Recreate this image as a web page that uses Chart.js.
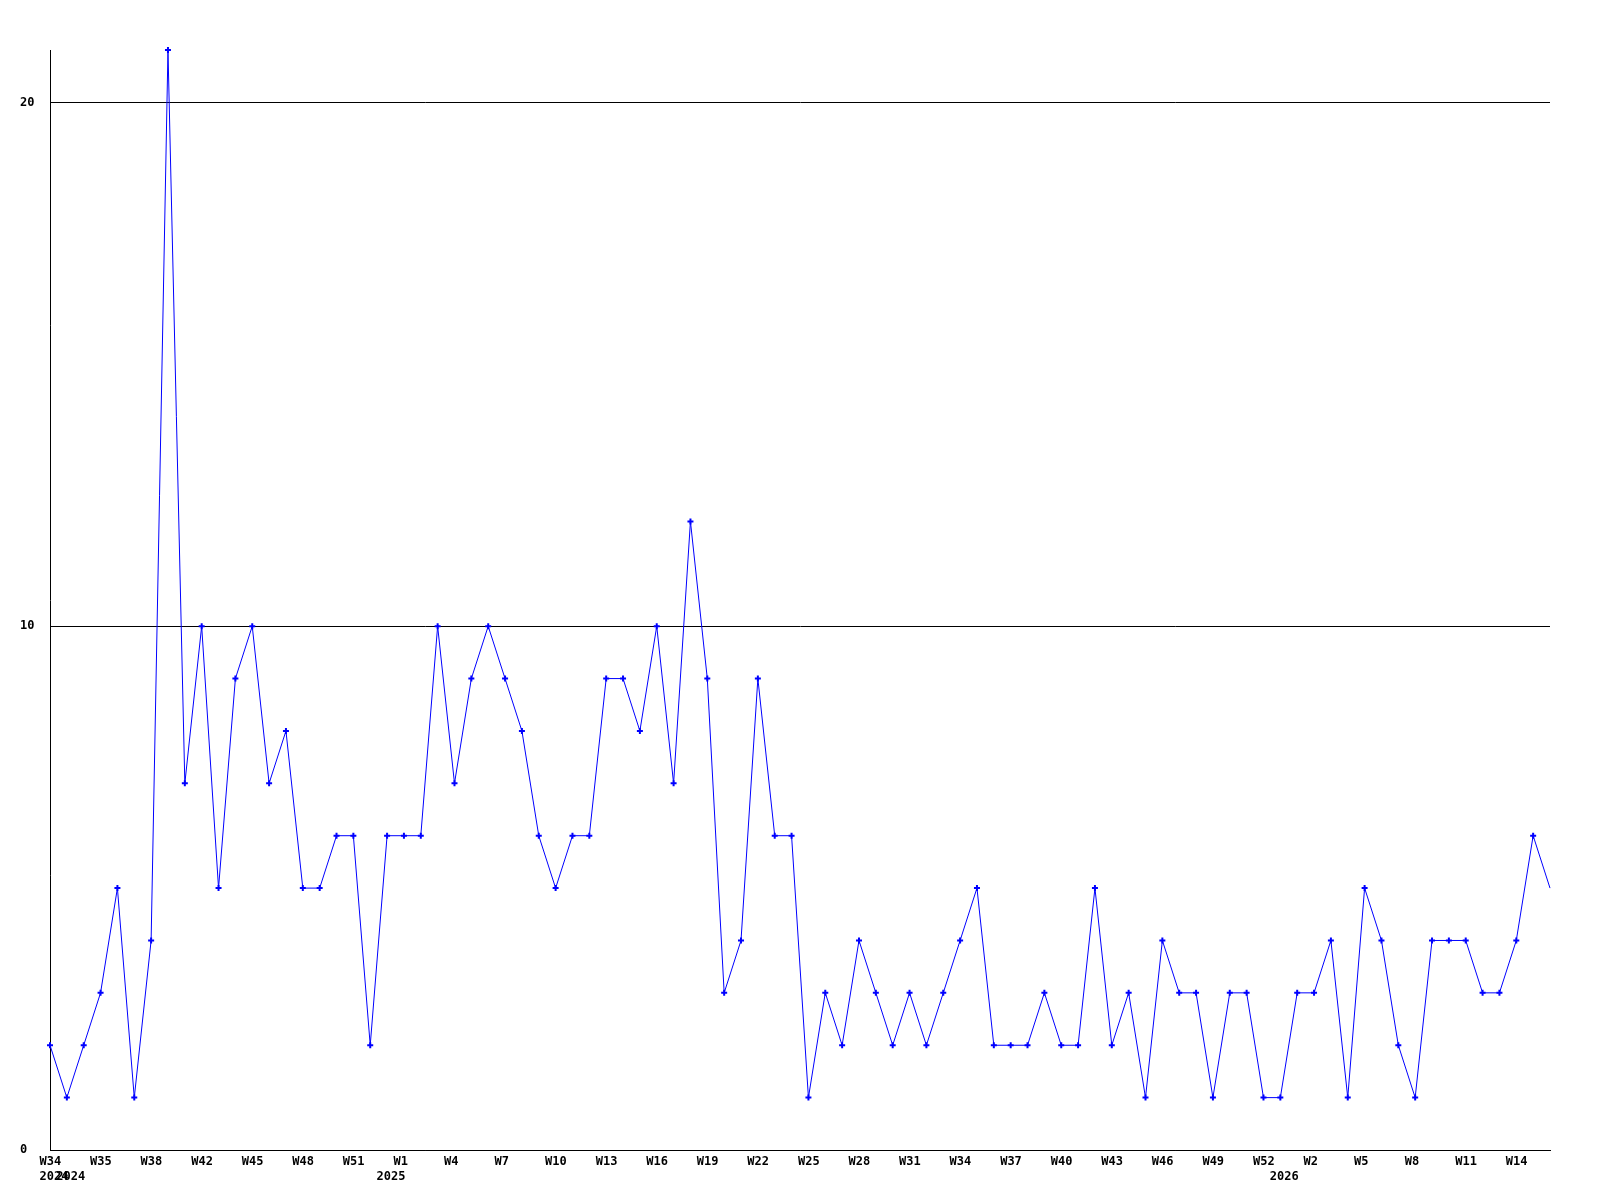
<!DOCTYPE html>
<html>
<head>
<meta charset="utf-8">
<script src="https://cdn.jsdelivr.net/npm/chart.js@4/dist/chart.umd.min.js"></script>
<style>
  html, body { margin: 0; padding: 0; background: #ffffff; }
  #wrap { width: 1600px; height: 1200px; position: relative; }
</style>
</head>
<body>
<div id="wrap"><canvas id="c"></canvas></div>
<script>
// ---- data ----
const values = [2,1,2,3,5,1,4,21,7,10,
                5,9,10,7,8,5,5,6,6,2,
                6,6,6,10,7,9,10,9,8,6,
                5,6,6,9,9,8,10,7,12,9,
                3,4,9,6,6,1,3,2,4,3,
                2,3,2,3,4,5,2,2,2,3,
                2,2,5,2,3,1,4,3,3,1,
                3,3,1,1,3,3,4,1,5,4,
                2,1,4,4,4,3,3,4,6,5];
const weekTicks = ['W34','W35','W38','W42','W45','W48','W51','W1','W4','W7',
                   'W10','W13','W16','W19','W22','W25','W28','W31','W34','W37',
                   'W40','W43','W46','W49','W52','W2','W5','W8','W11','W14'];
const weekTickStep = 3;
const yearLabels = ['2024','2024','2025','2026'];
const yearIndex = [0,1,20,73];
const yTicks = [0,10,20];
const yMax = 21;

// ---- build tick label table ----
const tickMap = new Map();
weekTicks.forEach((w, k) => { tickMap.set(k * weekTickStep, [w, '']); });
yearLabels.forEach((y, k) => {
  const idx = yearIndex[k];
  const cur = tickMap.get(idx) || ['', ''];
  cur[1] = y;
  tickMap.set(idx, cur);
});
const tickValues = [...tickMap.keys()].sort((a, b) => a - b);

const points = values.map((v, i) => ({ x: i, y: v }));
const radii = values.map((v, i) => (i === values.length - 1 ? 0 : 3));

const font = { family: '"DejaVu Sans Mono", monospace', size: 12, weight: 'bold', lineHeight: 1.25 };

new Chart(document.getElementById('c'), {
  type: 'line',
  data: {
    datasets: [{
      data: points,
      borderColor: '#0000ff',
      backgroundColor: '#0000ff',
      borderWidth: 1,
      tension: 0,
      fill: false,
      clip: false,
      pointStyle: 'cross',
      pointRadius: radii,
      pointBorderWidth: 2,
      pointBorderColor: '#0000ff',
      pointHoverRadius: 0
    }]
  },
  options: {
    responsive: true,
    maintainAspectRatio: false,
    animation: false,
    events: [],
    layout: { padding: { left: 20, top: 50, right: 50, bottom: 0 } },
    plugins: { legend: { display: false }, tooltip: { enabled: false } },
    scales: {
      x: {
        type: 'linear',
        min: 0,
        max: values.length - 1,
        grid: { display: false, drawTicks: false },
        border: { display: true, color: '#000000', width: 1 },
        afterBuildTicks: (scale) => { scale.ticks = tickValues.map(v => ({ value: v })); },
        afterFit: (scale) => { scale.height = 50; },
        ticks: {
          autoSkip: false,
          maxRotation: 0,
          minRotation: 0,
          align: 'start',
          labelOffset: -10.5,
          padding: 4,
          color: '#000000',
          font: font,
          callback: (value) => tickMap.get(value) || ''
        }
      },
      y: {
        min: 0,
        max: yMax,
        grid: { display: true, color: '#000000', lineWidth: 1, drawTicks: false },
        border: { display: true, color: '#000000', width: 1 },
        afterBuildTicks: (scale) => { scale.ticks = yTicks.map(v => ({ value: v })); },
        afterFit: (scale) => { scale.width = 30; },
        ticks: {
          crossAlign: 'far',
          padding: 4,
          color: '#000000',
          font: font,
          callback: (value) => String(value)
        }
      }
    }
  }
});
</script>
</body>
</html>
